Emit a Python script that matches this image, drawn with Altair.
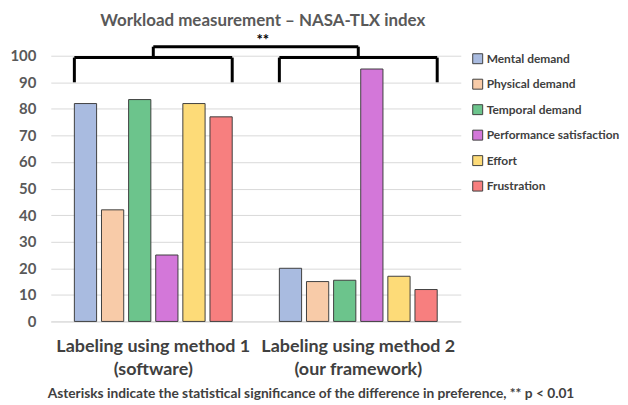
import altair as alt
import pandas as pd

groups = ["Labeling using method 1|(software)", "Labeling using method 2|(our framework)"]
series = ["Mental demand", "Physical demand", "Temporal demand",
          "Performance satisfaction", "Effort", "Frustration"]
method1 = [82, 42, 83.5, 25, 82, 77]
method2 = [20, 15, 15.5, 95, 17, 12]
colors = ["#a9bbe0", "#f8cba8", "#6cc48c", "#d377d9", "#fddb78", "#f77f7f"]
y_ticks = [0, 10, 20, 30, 40, 50, 60, 70, 80, 90, 100]

title_text = "Workload measurement \u2013 NASA-TLX index"
footnote = "Asterisks indicate the statistical significance of the difference in preference, ** p < 0.01"
sig_label = "**"

rows = []
for g, vals in zip(groups, [method1, method2]):
    for s, v in zip(series, vals):
        rows.append({"group": g, "series": s, "value": v})
df = pd.DataFrame(rows)

FONT = "Lato"
GRAY = "#595959"
DARK = "#404040"
P_IN, P_OUT = 0.23, 0.115
W, H = 412, 267
STEP = W / (len(groups) - P_IN + 2 * P_OUT)

xscale = alt.Scale(domain=groups, paddingInner=P_IN, paddingOuter=P_OUT)
yscale = alt.Scale(domain=[0, 100], nice=False)

xaxis = alt.Axis(title=footnote, labelExpr="split(datum.label, '|')",
                 labelAngle=0, labelFont=FONT, labelFontSize=18,
                 labelFontWeight="bold", labelColor=DARK, labelLimit=0,
                 labelPadding=16, labelLineHeight=23,
                 ticks=False, domainColor="#d9d9d9",
                 titleFont=FONT, titleFontSize=13.8, titleFontWeight="bold",
                 titleColor=DARK, titleX=261, titleY=72,
                 titleBaseline="middle", titleAlign="center")
yaxis = alt.Axis(title=None, values=y_ticks, labelOverlap=False,
                 labelFont=FONT, labelFontSize=15, labelFontWeight="bold",
                 labelColor=GRAY, labelPadding=15, ticks=False,
                 domain=False, gridColor="#d9d9d9")

bars = alt.Chart(df).mark_bar(stroke=DARK, strokeWidth=1).encode(
    x=alt.X("group:N", scale=xscale, sort=groups, axis=xaxis),
    xOffset=alt.XOffset("series:N", sort=series,
                        scale=alt.Scale(domain=series, paddingInner=0.18, paddingOuter=0)),
    y=alt.Y("value:Q", scale=yscale, axis=yaxis),
    color=alt.Color("series:N", sort=series,
                    scale=alt.Scale(domain=series, range=colors),
                    legend=alt.Legend(title=None, orient="none", legendX=423, legendY=-3,
                                      symbolType="square", symbolSize=100,
                                      symbolStrokeColor=DARK, symbolStrokeWidth=1,
                                      labelFont=FONT, labelFontSize=12,
                                      labelFontWeight="bold", labelColor=DARK,
                                      rowPadding=11.6, labelOffset=3, labelLimit=0)),
)

# group brackets
gb = pd.DataFrame({"group": groups, "top": [99.3, 99.3], "bot": [90, 90]})
gb_h = alt.Chart(gb).mark_rule(color="black", strokeWidth=3).encode(
    x=alt.X("group:N", scale=xscale, bandPosition=0, axis=xaxis),
    x2=alt.X2("group", bandPosition=1),
    y=alt.Y("top:Q", scale=yscale, axis=yaxis),
)
gb_l = alt.Chart(gb).mark_rule(color="black", strokeWidth=3).encode(
    x=alt.X("group:N", scale=xscale, bandPosition=0, axis=xaxis),
    y=alt.Y("bot:Q", scale=yscale, axis=yaxis), y2="top:Q",
)
gb_r = alt.Chart(gb).mark_rule(color="black", strokeWidth=3).encode(
    x=alt.X("group:N", scale=xscale, bandPosition=1, axis=xaxis),
    y=alt.Y("bot:Q", scale=yscale, axis=yaxis), y2="top:Q",
)

tb = pd.DataFrame({"g1": [groups[0]], "g2": [groups[1]], "top": [103.4], "bot": [99.3],
                   "txt": [sig_label], "ty": [106.0]})
tb_h = alt.Chart(tb).mark_rule(color="black", strokeWidth=3).encode(
    x=alt.X("g1:N", scale=xscale, bandPosition=0.5, axis=xaxis),
    x2=alt.X2("g2", bandPosition=0.5),
    y=alt.Y("top:Q", scale=yscale, axis=yaxis),
)
tb_l = alt.Chart(tb).mark_rule(color="black", strokeWidth=3).encode(
    x=alt.X("g1:N", scale=xscale, bandPosition=0.5, axis=xaxis),
    y=alt.Y("bot:Q", scale=yscale, axis=yaxis), y2="top:Q",
)
tb_r = alt.Chart(tb).mark_rule(color="black", strokeWidth=3).encode(
    x=alt.X("g2:N", scale=xscale, bandPosition=0.5, axis=xaxis),
    y=alt.Y("bot:Q", scale=yscale, axis=yaxis), y2="top:Q",
)
tb_t = alt.Chart(tb).mark_text(font=FONT, fontSize=15, fontWeight="bold",
                               color="black", baseline="middle",
                               dx=P_IN * STEP / 2 + 7).encode(
    x=alt.X("g1:N", scale=xscale, bandPosition=1, axis=xaxis),
    y=alt.Y("ty:Q", scale=yscale, axis=yaxis),
    text="txt:N",
)

chart = alt.layer(bars, gb_h, gb_l, gb_r, tb_h, tb_l, tb_r, tb_t).properties(
    width=W, height=H,
    padding={"left": 1, "top": 2, "right": 0, "bottom": 0},
    title=alt.TitleParams(title_text, font=FONT, fontSize=17, fontWeight="bold",
                          color=GRAY, anchor="middle", frame="group", offset=3, dx=7),
).configure_view(stroke=None)

chart.save("out.html", embed_options={"renderer": "svg", "actions": False})
